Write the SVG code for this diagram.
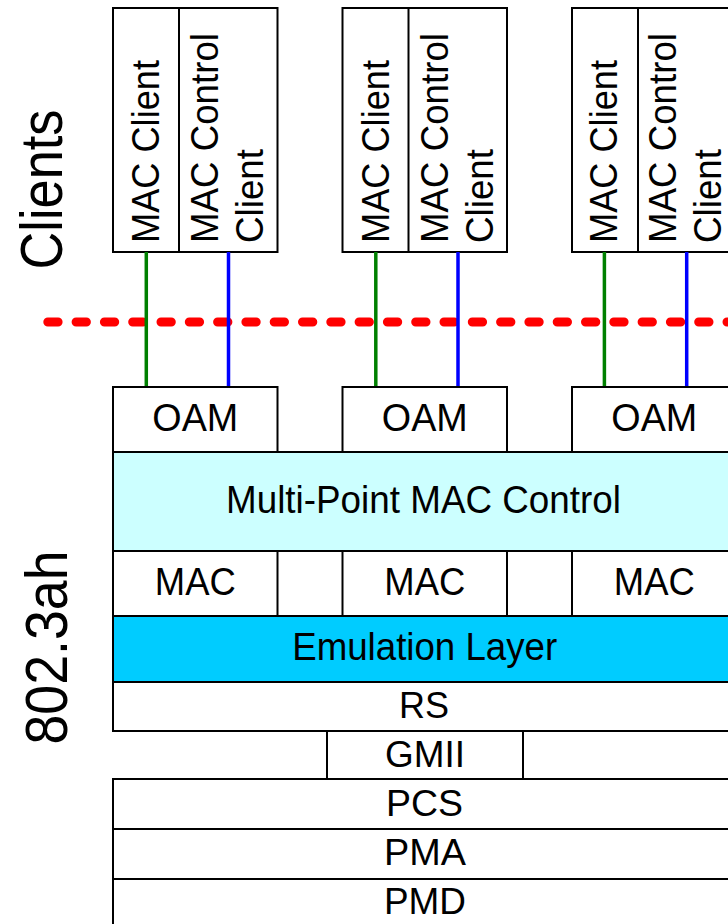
<svg xmlns="http://www.w3.org/2000/svg" width="728" height="924" viewBox="0 0 728 924">
<style>
.box{fill:#fff;stroke:#000;stroke-width:2}
.ln{stroke:#000;stroke-width:2;fill:none}
.t{font-family:"Liberation Sans",Arial,sans-serif;font-size:38px;fill:#000}
.r{font-size:39px}
.tm{text-anchor:middle}
.s{font-size:36px}
.big{font-family:"Liberation Sans",Arial,sans-serif;font-size:60px;fill:#000;text-anchor:middle}
.g{stroke:#008000;stroke-width:3.5}
.b{stroke:#0000ff;stroke-width:3.5}
</style>
<rect width="728" height="924" fill="#fff"/>
<g id="label-clients"><text class="big" transform="translate(62,189.5) rotate(-90)" textLength="160" lengthAdjust="spacingAndGlyphs">Clients</text></g>
<g id="label-8023ah"><text class="big" transform="translate(67,647.5) rotate(-90)" textLength="194" lengthAdjust="spacingAndGlyphs">802.3ah</text></g>

<g id="client1">
<rect class="box" x="113" y="8" width="164.5" height="244"/>
<line class="ln" x1="179" y1="8" x2="179" y2="252"/>
<text class="t r" transform="translate(159,243) rotate(-90)" textLength="183" lengthAdjust="spacingAndGlyphs">MAC Client</text>
<text class="t r" transform="translate(218,243) rotate(-90)" textLength="210" lengthAdjust="spacingAndGlyphs">MAC Control</text>
<text class="t r" transform="translate(263,243) rotate(-90)" textLength="94" lengthAdjust="spacingAndGlyphs">Client</text>
</g>
<g id="client2">
<rect class="box" x="342.5" y="8" width="164.5" height="244"/>
<line class="ln" x1="408.5" y1="8" x2="408.5" y2="252"/>
<text class="t r" transform="translate(388.5,243) rotate(-90)" textLength="183" lengthAdjust="spacingAndGlyphs">MAC Client</text>
<text class="t r" transform="translate(447.5,243) rotate(-90)" textLength="210" lengthAdjust="spacingAndGlyphs">MAC Control</text>
<text class="t r" transform="translate(492.5,243) rotate(-90)" textLength="94" lengthAdjust="spacingAndGlyphs">Client</text>
</g>
<g id="client3">
<rect class="box" x="572" y="8" width="164.5" height="244"/>
<line class="ln" x1="638" y1="8" x2="638" y2="252"/>
<text class="t r" transform="translate(617,243) rotate(-90)" textLength="183" lengthAdjust="spacingAndGlyphs">MAC Client</text>
<text class="t r" transform="translate(676,243) rotate(-90)" textLength="210" lengthAdjust="spacingAndGlyphs">MAC Control</text>
<text class="t r" transform="translate(721,243) rotate(-90)" textLength="94" lengthAdjust="spacingAndGlyphs">Client</text>
</g>

<g id="boundary"><line x1="47.8" y1="322" x2="740" y2="322" stroke="#ff0000" stroke-width="9" stroke-linecap="round" stroke-dasharray="10.3 18"/></g>

<g id="connectors">
<line class="g" x1="146.3" y1="252" x2="146.3" y2="387"/>
<line class="b" x1="228.5" y1="252" x2="228.5" y2="387"/>
<line class="g" x1="375.8" y1="252" x2="375.8" y2="387"/>
<line class="b" x1="458" y1="252" x2="458" y2="387"/>
<line class="g" x1="604.4" y1="252" x2="604.4" y2="387"/>
<line class="b" x1="686.7" y1="252" x2="686.7" y2="387"/>
</g>

<g id="oam1"><rect class="box" x="113" y="387" width="164.5" height="65"/><text class="t tm" x="195.3" y="431" textLength="86" lengthAdjust="spacingAndGlyphs">OAM</text></g>
<g id="oam2"><rect class="box" x="342.5" y="387" width="164.5" height="65"/><text class="t tm" x="424.8" y="431" textLength="86" lengthAdjust="spacingAndGlyphs">OAM</text></g>
<g id="oam3"><rect class="box" x="572" y="387" width="164.5" height="65"/><text class="t tm" x="654.3" y="431" textLength="86" lengthAdjust="spacingAndGlyphs">OAM</text></g>

<g id="mpmc"><rect x="113" y="452" width="623.5" height="99" fill="#ccffff" stroke="#000" stroke-width="2"/><text class="t tm" x="423.5" y="513" textLength="395" lengthAdjust="spacingAndGlyphs">Multi-Point MAC Control</text></g>

<g id="mac-row">
<rect class="box" x="113" y="551" width="623.5" height="65"/>
<line class="ln" x1="277.5" y1="551" x2="277.5" y2="616"/>
<line class="ln" x1="342.5" y1="551" x2="342.5" y2="616"/>
<line class="ln" x1="507" y1="551" x2="507" y2="616"/>
<line class="ln" x1="572" y1="551" x2="572" y2="616"/>
</g>
<g id="mac1"><text class="t tm" x="195.3" y="595" textLength="81" lengthAdjust="spacingAndGlyphs">MAC</text></g>
<g id="mac2"><text class="t tm" x="424.8" y="595" textLength="81" lengthAdjust="spacingAndGlyphs">MAC</text></g>
<g id="mac3"><text class="t tm" x="654.3" y="595" textLength="81" lengthAdjust="spacingAndGlyphs">MAC</text></g>

<g id="emulation"><rect x="113" y="616" width="623.5" height="66" fill="#00ccff" stroke="#000" stroke-width="2"/><text class="t tm" x="424.7" y="660" textLength="265" lengthAdjust="spacingAndGlyphs">Emulation Layer</text></g>

<g id="rs"><rect class="box" x="113" y="682" width="623.5" height="49"/><text class="t s tm" x="424" y="718" textLength="50" lengthAdjust="spacingAndGlyphs">RS</text></g>
<g id="gmii"><line class="ln" x1="523" y1="731" x2="736.5" y2="731"/><rect class="box" x="327" y="731" width="196" height="48"/><text class="t s tm" x="425" y="767" textLength="80" lengthAdjust="spacingAndGlyphs">GMII</text></g>
<g id="pcs"><rect class="box" x="113" y="779" width="623.5" height="50"/><text class="t s tm" x="424.5" y="816" textLength="77" lengthAdjust="spacingAndGlyphs">PCS</text></g>
<g id="pma"><rect class="box" x="113" y="829" width="623.5" height="50"/><text class="t s tm" x="425" y="865" textLength="82" lengthAdjust="spacingAndGlyphs">PMA</text></g>
<g id="pmd"><rect class="box" x="113" y="879" width="623.5" height="60"/><text class="t s tm" x="425" y="914" textLength="82" lengthAdjust="spacingAndGlyphs">PMD</text></g>
</svg>
